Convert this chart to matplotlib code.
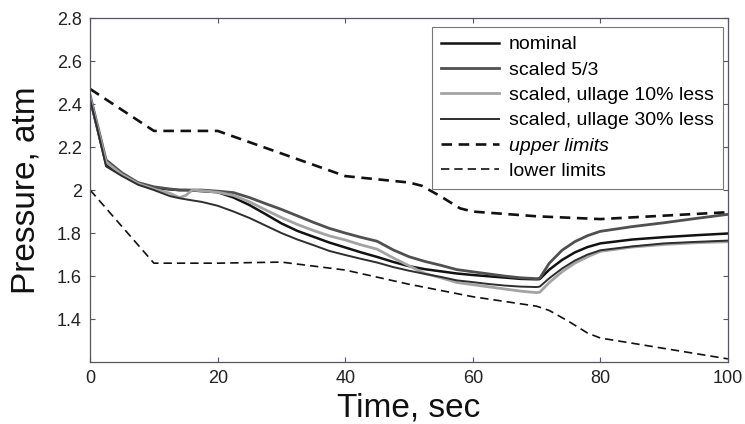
import matplotlib
matplotlib.use("Agg")
import matplotlib.pyplot as plt

# sample times for the simulated curves (sec)
t_sim = [0, 1, 2.5, 5, 7.5, 10, 12.5, 14, 15, 16, 17.5, 20, 22.5, 25, 27.5,
         30, 32.5, 35, 37.5, 40, 42.5, 45, 47.5, 50, 52.5, 55, 57.5, 60,
         62.5, 65, 67.5, 70, 70.5, 72, 74, 76, 78, 80, 85, 90, 95, 100]

p_nominal = [2.42, 2.30, 2.12, 2.07, 2.03, 2.01, 2.003, 2.0, 2.0, 1.998,
             1.995, 1.99, 1.965, 1.93, 1.888, 1.845, 1.81, 1.783, 1.756,
             1.733, 1.71, 1.689, 1.666, 1.646, 1.632, 1.622, 1.612, 1.605,
             1.599, 1.593, 1.587, 1.585, 1.586, 1.63, 1.675, 1.71, 1.735,
             1.752, 1.77, 1.781, 1.79, 1.798]

p_scaled = [2.44, 2.32, 2.14, 2.08, 2.035, 2.015, 2.005, 2.0, 2.0, 2.0,
            2.0, 1.995, 1.988, 1.965, 1.937, 1.91, 1.88, 1.85, 1.822, 1.80,
            1.78, 1.762, 1.722, 1.69, 1.668, 1.65, 1.63, 1.62, 1.61, 1.60,
            1.592, 1.588, 1.59, 1.66, 1.72, 1.76, 1.788, 1.808, 1.83, 1.848,
            1.868, 1.887]

p_ullage10 = [2.43, 2.31, 2.13, 2.072, 2.03, 2.005, 1.985, 1.965, 1.975,
              2.0, 1.997, 1.99, 1.975, 1.945, 1.908, 1.872, 1.84, 1.812,
              1.787, 1.768, 1.745, 1.725, 1.685, 1.648, 1.612, 1.592, 1.57,
              1.56, 1.55, 1.54, 1.53, 1.523, 1.525, 1.57, 1.62, 1.66, 1.69,
              1.715, 1.735, 1.747, 1.755, 1.76]

p_ullage30 = [2.42, 2.30, 2.11, 2.065, 2.025, 2.0, 1.972, 1.962, 1.957,
              1.952, 1.945, 1.927, 1.90, 1.87, 1.835, 1.80, 1.77, 1.744,
              1.717, 1.698, 1.68, 1.663, 1.642, 1.625, 1.61, 1.596, 1.58,
              1.572, 1.563, 1.556, 1.551, 1.549, 1.551, 1.59, 1.635, 1.672,
              1.70, 1.72, 1.738, 1.752, 1.759, 1.765]

# limit envelopes
t_upper = [0, 10, 20, 40, 45, 50, 52, 55, 58, 60, 70, 80, 100]
p_upper = [2.47, 2.275, 2.275, 2.065, 2.05, 2.035, 2.02, 1.97, 1.915, 1.90,
           1.878, 1.865, 1.897]

t_lower = [0, 10, 20, 30, 40, 50, 60, 70, 72, 75, 78, 80, 100]
p_lower = [2.0, 1.66, 1.66, 1.665, 1.628, 1.562, 1.504, 1.46, 1.44, 1.39,
           1.335, 1.312, 1.215]

plt.rcParams["font.family"] = ["Liberation Sans", "DejaVu Sans"]

fig = plt.figure(figsize=(7.45, 4.24), dpi=100)
fig.patch.set_facecolor("white")
ax = fig.add_axes([0.121, 0.146, 0.856, 0.8115])

ax.plot(t_sim, p_nominal, color="#111111", lw=1.8, label="nominal")
ax.plot(t_sim, p_scaled, color="#505050", lw=2.0, label="scaled 5/3")
ax.plot(t_sim, p_ullage10, color="#a3a3a3", lw=2.0,
        label="scaled, ullage 10% less")
ax.plot(t_sim, p_ullage30, color="#2e2e2e", lw=1.4,
        label="scaled, ullage 30% less")
ax.plot(t_upper, p_upper, color="#111111", lw=1.9, ls=(0, (4, 2.5)),
        label="upper limits")
ax.plot(t_lower, p_lower, color="#111111", lw=1.2, ls=(0, (5, 3)),
        label="lower limits")

ax.set_xlim(0, 100)
ax.set_ylim(1.2, 2.8)
ax.set_xticks([0, 20, 40, 60, 80, 100])
ax.set_yticks([1.4, 1.6, 1.8, 2.0, 2.2, 2.4, 2.6, 2.8])
ax.set_yticklabels(["1.4", "1.6", "1.8", "2", "2.2", "2.4", "2.6", "2.8"])
ax.tick_params(direction="in", top=True, right=True, length=3.5,
               width=0.8, labelsize=13, colors="#555566",
               labelcolor="#222222", pad=6)
for sp in ax.spines.values():
    sp.set_color("#555566")
    sp.set_linewidth(0.9)

ax.set_xlabel("Time, sec", fontsize=24, color="#111111", labelpad=4)
ax.set_ylabel("Pressure, atm", fontsize=24, color="#111111", labelpad=11)

leg = ax.legend(loc="upper right", bbox_to_anchor=(0.992, 0.974),
                borderaxespad=0, fontsize=14, frameon=True, fancybox=False,
                handlelength=3.0, handletextpad=0.5, labelspacing=0.4,
                borderpad=0.45)
leg.get_frame().set_edgecolor("#555555")
leg.get_frame().set_linewidth(0.8)
leg.get_texts()[4].set_style("italic")

fig.savefig("out.png", dpi=100, facecolor="white")
